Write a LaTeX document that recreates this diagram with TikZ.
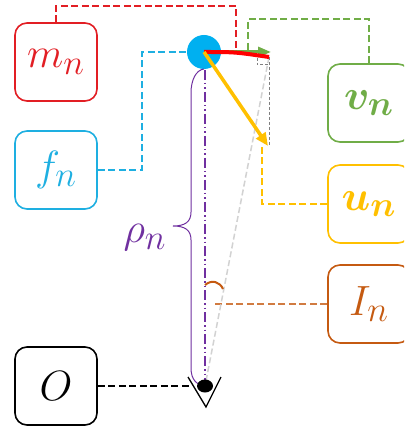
\documentclass[tikz,border=0pt]{standalone}
\usepackage{amsmath}
\usepackage{bm}
\usepackage{graphicx}
\usetikzlibrary{arrows.meta}
\definecolor{cred}{RGB}{226,30,36}
\definecolor{ccyan}{RGB}{30,175,225}
\definecolor{cblue}{RGB}{0,176,240}
\definecolor{cgreen}{RGB}{112,173,71}
\definecolor{cyellow}{RGB}{255,192,0}
\definecolor{corange}{RGB}{197,90,17}
\definecolor{cpurple}{RGB}{112,48,160}
\definecolor{cgray}{RGB}{127,127,127}
\definecolor{clgray}{RGB}{210,210,210}
\newcommand\bigtxt[1]{\scalebox{1.7}{\Huge #1}}
\tikzset{
  box/.style={draw, rounded corners=12pt, line width=1.6pt, minimum width=82pt, minimum height=78pt, inner sep=0pt},
  link/.style={dash pattern=on 7pt off 3.5pt, line width=1.1pt},
}
\begin{document}
\begin{tikzpicture}[x=1pt,y=-1pt]
\clip (0,0) rectangle (404,427);
\fill[white] (0,0) rectangle (404,427);
% boxes
\node[box, draw=cred, text=cred] (m) at (56,62) {\bigtxt{$m_n$}};
\node[box, draw=ccyan, text=ccyan] (f) at (56,170) {\bigtxt{$f_n$}};
\node[box, draw=black] (o) at (56,386) {\bigtxt{$O$}};
\node[box, draw=cgreen, text=cgreen] (v) at (369,103) {\bigtxt{$\bm{v}_{\bm{n}}$}};
\node[box, draw=cyellow, text=cyellow] (u) at (369,204) {\bigtxt{$\bm{u}_{\bm{n}}$}};
\node[box, draw=corange, text=corange] (I) at (369,304) {\bigtxt{$I_n$}};
% body
\node[circle, fill=cblue, minimum size=34pt, inner sep=0pt] (c) at (204,52) {};
\coordinate (ctr) at (204,52);
\coordinate (p) at (269,57);
\coordinate (g) at (271,52);
\coordinate (y) at (268,146);
\coordinate (b) at (205,386);
\coordinate (mend) at (236,52);
\coordinate (vend) at (248,52);
\coordinate (yend) at (262,147);
\coordinate (iend) at (213,304);
\coordinate (oend) at (192,386);
\coordinate (gbot) at (269,146);
% connectors
\draw[link, draw=cred] (m.north) |- (236,6) -- (mend);
\draw[link, draw=cgreen] (v.north) |- (248,19) -- (vend);
\draw[link, draw=ccyan] (f.east) -| (142,52) -- (c.west);
\draw[link, draw=cyellow] (u.west) -| (yend);
\draw[link, draw=corange!80] (I.west) -- (iend);
\draw[link, draw=black] (o.east) -- (oend);
% projections
\draw[dash pattern=on 6pt off 3pt, line width=1.5pt, draw=clgray] (p) -- (b);
\draw[dash pattern=on 3pt off 2pt, line width=1pt, draw=cgray] (p) -- (gbot);
\draw[dash pattern=on 3pt off 2pt, line width=1pt, draw=cgray] (257,58) -- (257,65) -- (269,65);
% axis
\draw[draw=cpurple, line width=1.5pt, dash pattern=on 10pt off 3pt on 1.5pt off 3pt on 1.5pt off 3pt] (205,70) -- (b);
% brace
\draw[draw=cpurple, line width=1pt] (204,69) .. controls (196,70) and (191,80) .. (191,93) -- (191,212) .. controls (191,222) and (185,226) .. (173,226) .. controls (185,226) and (191,230) .. (191,240) -- (191,368) .. controls (191,380) and (197,385) .. (b);
\node[text=cpurple] (rho) at (145,238) {\bigtxt{$\rho_n$}};
% angle
\draw[draw=corange, line width=2pt] (205,285) .. controls (212,279) and (220,282) .. (223,289);
% vectors
\draw[draw=cgreen, line width=3pt, -{Triangle[length=13pt,width=10pt]}] (ctr) -- (g);
\draw[draw=red, line width=4pt] (ctr) .. controls (235,52) .. (p);
\draw[draw=cyellow, line width=3.5pt, -{Triangle[length=13pt,width=11pt]}] (ctr) -- (y);
% pin
\draw[line width=1.3pt] (188,377) -- (206,407) -- (221,377);
\fill (b) ellipse[x radius=8pt, y radius=6.5pt];
\end{tikzpicture}
\end{document}
